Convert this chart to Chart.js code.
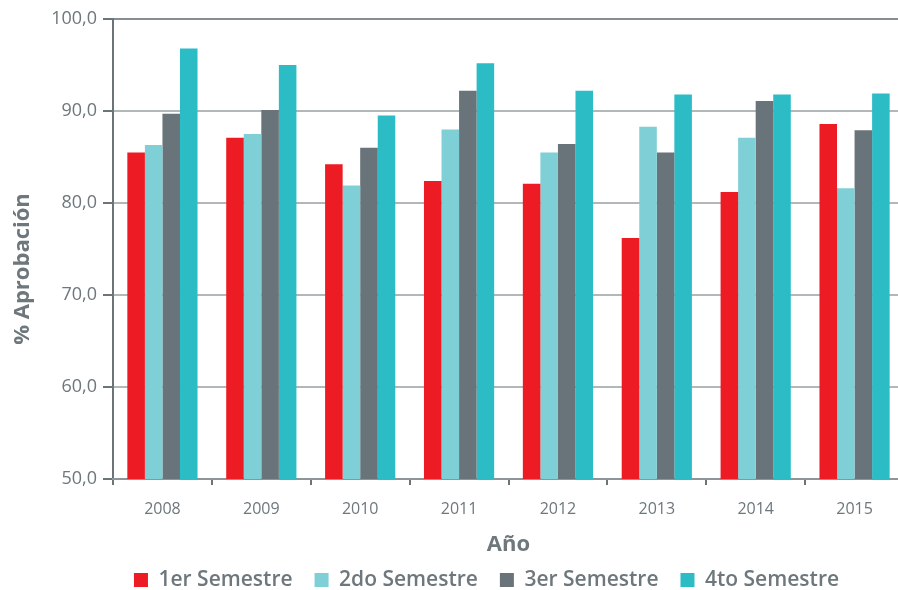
<!DOCTYPE html>
<html>
<head>
<meta charset="utf-8">
<script src="https://cdn.jsdelivr.net/npm/chart.js@4"></script>
<style>
html, body { margin: 0; padding: 0; overflow: hidden; background: #fff; }
</style>
</head>
<body>
<canvas id="grafico" width="906" height="590"></canvas>
<script>
const anios = ['2008', '2009', '2010', '2011', '2012', '2013', '2014', '2015'];
const sem1 = [85.5, 87.1, 84.2, 82.4, 82.1, 76.2, 81.2, 88.6];
const sem2 = [86.3, 87.5, 81.9, 88.0, 85.5, 88.3, 87.1, 81.6];
const sem3 = [89.7, 90.1, 86.0, 92.2, 86.4, 85.5, 91.1, 87.9];
const sem4 = [96.8, 95.0, 89.5, 95.2, 92.2, 91.8, 91.8, 91.9];

const gris = '#6d777c';
const fuente = "'Open Sans', sans-serif";

// la leyenda no ocupa lugar en el layout: se dibuja debajo del titulo "Año"
const moverLeyenda = {
    id: 'moverLeyenda',
    beforeLayout(chart) {
        const lg = chart.legend;
        if (lg && !lg._ajustada) {
            const fit = lg.fit;
            lg.fit = function () { fit.call(this); this.height = 0; };
            lg._ajustada = true;
        }
    },
    afterLayout(chart) {
        const lg = chart.legend;
        const dx = 486.5 - (lg.left + lg.right) / 2;
        lg.top = 547.5;
        lg.bottom = chart.height;
        lg.height = lg.bottom - lg.top;
        lg.left += dx;
        lg.right += dx;
    }
};

const ctx = document.getElementById('grafico').getContext('2d');
const grafico = new Chart(ctx, {
    type: 'bar',
    data: {
        labels: anios,
        datasets: [
            { label: '1er Semestre', data: sem1, backgroundColor: '#ed1c24' },
            { label: '2do Semestre', data: sem2, backgroundColor: '#7ecfd6' },
            { label: '3er Semestre', data: sem3, backgroundColor: '#69737a' },
            { label: '4to Semestre', data: sem4, backgroundColor: '#2bbcc6' }
        ]
    },
    plugins: [moverLeyenda],
    options: {
        responsive: false,
        animation: false,
        datasets: {
            bar: { categoryPercentage: 0.71, barPercentage: 1.0 }
        },
        layout: { padding: { top: 19, right: 2, left: 0, bottom: 0 } },
        plugins: {
            tooltip: { enabled: false },
            legend: {
                position: 'bottom',
                labels: {
                    boxWidth: 14,
                    boxHeight: 14,
                    padding: 22,
                    color: gris,
                    font: { family: fuente, size: 21, weight: '600' }
                }
            }
        },
        scales: {
            y: {
                min: 50,
                max: 100,
                ticks: {
                    stepSize: 10,
                    padding: 6,
                    color: gris,
                    font: { family: fuente, size: 18 },
                    callback: v => v.toFixed(1).replace('.', ',')
                },
                grid: {
                    color: c => (c.tick && c.tick.value === 100) ? '#868e93' : '#b2b7ba',
                    lineWidth: 2,
                    tickColor: '#6b7479',
                    tickLength: 10
                },
                border: { color: '#6b7479', width: 2 },
                title: {
                    display: true,
                    text: '% Aprobación       ',
                    color: gris,
                    font: { family: fuente, size: 22, weight: 'bold' },
                    padding: { top: 10, bottom: 0 }
                },
                afterFit: s => { s.width = 113; }
            },
            x: {
                grid: {
                    drawOnChartArea: false,
                    offset: true,
                    tickLength: 6,
                    tickColor: '#6b7479',
                    lineWidth: 2
                },
                border: { color: '#8d9599', width: 2 },
                ticks: {
                    padding: 15,
                    color: gris,
                    font: { family: fuente, size: 16 }
                },
                title: {
                    display: true,
                    text: 'Año',
                    color: gris,
                    font: { family: fuente, size: 22, weight: 'bold' },
                    padding: { top: 0, bottom: 32 }
                },
                afterFit: s => { s.height = 111; }
            }
        }
    }
});
</script>
</body>
</html>
